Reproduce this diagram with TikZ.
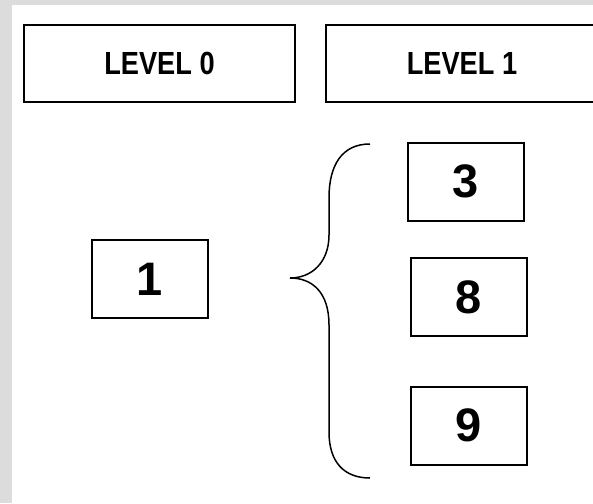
\documentclass[tikz,border=0pt]{standalone}
\usepackage{fontspec}
\setmainfont{Liberation Sans}
\newfontfamily\lvlfont[FakeStretch=0.85]{Liberation Sans Bold}
\definecolor{framegray}{RGB}{220,220,220}
\tikzset{
  lvlbox/.style={draw, line width=1pt, minimum width=135.5pt, minimum height=38.5pt, inner sep=0pt, font=\lvlfont\fontsize{16}{18}\selectfont},
  numbox/.style={draw, line width=1pt, minimum width=58pt, minimum height=39pt, inner sep=0pt, font=\bfseries\fontsize{23.5}{26}\selectfont},
  bracestyle/.style={line width=0.75pt}
}
\begin{document}
\begin{tikzpicture}[x=0.5pt,y=-0.5pt]
\useasboundingbox (0,0) rectangle (593,503);
\clip (0,0) rectangle (593,503);
% frame
\fill[framegray] (0,0) rectangle (593,503);
\fill[white] (12,5) rectangle (593,503);
% level headers
\node[lvlbox] (lvl0) at (159.5,63.5) {LEVEL 0};
\node[lvlbox, minimum width=136pt] (lvl1) at (462,63.5) {LEVEL 1};
% level 0 entry
\node[numbox] (n1) at (150,279) {1};
% level 1 entries
\node[numbox] (n3) at (466,181.5) {3};
\node[numbox] (n8) at (468.5,297) {8};
\node[numbox] (n9) at (468.5,425.5) {9};
% brace
\coordinate (brtop) at (370,144);
\coordinate (brtip) at (290,278);
\coordinate (brbot) at (370,478);
\draw[bracestyle] (brtop) .. controls (342,144) and (329,165) .. (329,198)
  -- (329,235) .. controls (329,262) and (312,278) .. (brtip)
  .. controls (312,278) and (329,292) .. (329,325)
  -- (329,432) .. controls (329,462) and (344,478) .. (brbot);
\end{tikzpicture}
\end{document}
